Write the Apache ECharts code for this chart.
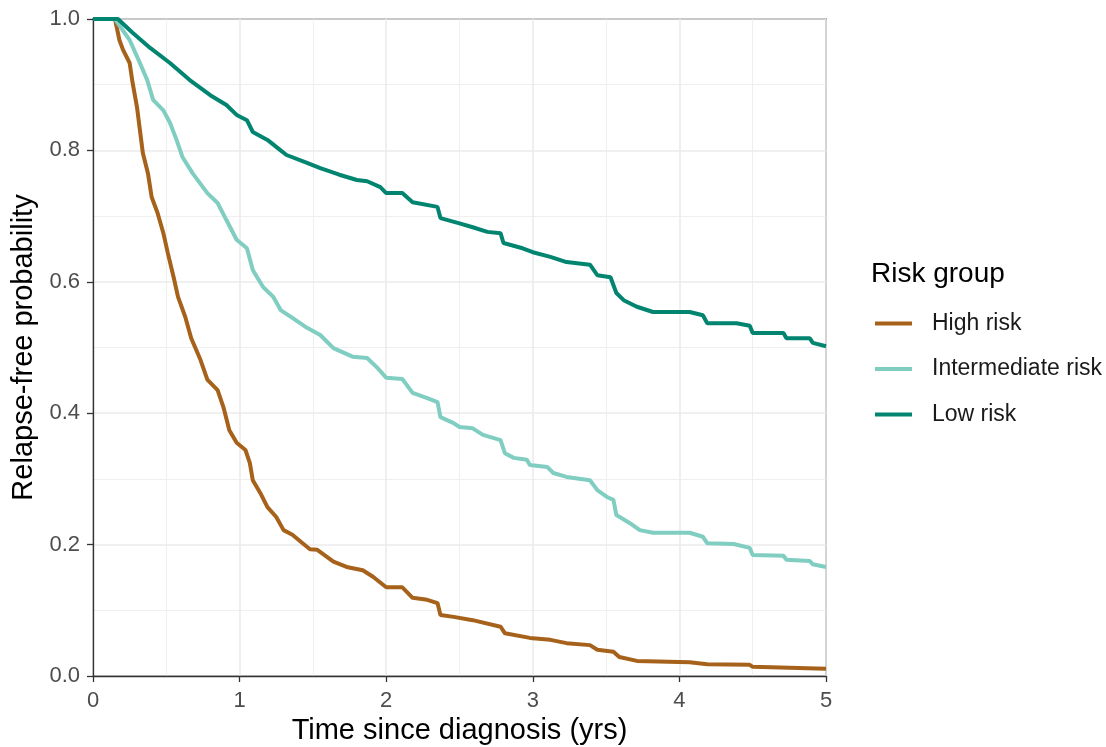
<!DOCTYPE html>
<html>
<head>
<meta charset="utf-8">
<script src="https://cdn.jsdelivr.net/npm/echarts@6/dist/echarts.min.js"></script>
<style>
html,body{margin:0;padding:0;background:#fff;}
#chart{width:1106px;height:747px;}
</style>
</head>
<body>
<div id="chart"></div>
<script>
// Group names and colours
const groupNames = ['High risk', 'Intermediate risk', 'Low risk'];
const groupColors = ['#A6611A', '#80CDC1', '#018571'];

// Survival estimates: [time (yrs), relapse-free probability]
const highRisk = [[0,1],[0.15,1],[0.18,0.968],[0.205,0.953],[0.25,0.933],[0.27,0.903],[0.30,0.866],[0.32,0.831],[0.34,0.796],[0.375,0.765],[0.40,0.729],[0.44,0.705],[0.48,0.674],[0.51,0.644],[0.55,0.607],[0.58,0.577],[0.63,0.546],[0.67,0.514],[0.73,0.483],[0.78,0.451],[0.85,0.435],[0.89,0.409],[0.93,0.374],[0.98,0.355],[1.04,0.344],[1.07,0.324],[1.09,0.298],[1.14,0.279],[1.19,0.257],[1.25,0.242],[1.30,0.222],[1.36,0.215],[1.43,0.202],[1.48,0.193],[1.53,0.192],[1.64,0.174],[1.73,0.166],[1.84,0.161],[1.91,0.151],[2.0,0.135],[2.11,0.135],[2.18,0.119],[2.28,0.116],[2.35,0.111],[2.37,0.093],[2.46,0.090],[2.59,0.085],[2.78,0.075],[2.81,0.065],[2.98,0.058],[3.12,0.055],[3.23,0.050],[3.39,0.047],[3.44,0.040],[3.55,0.037],[3.59,0.029],[3.71,0.023],[4.07,0.021],[4.19,0.018],[4.48,0.017],[4.50,0.014],[5.0,0.011]];

const intermediateRisk = [[0,1],[0.15,1],[0.25,0.968],[0.32,0.933],[0.37,0.907],[0.41,0.877],[0.48,0.861],[0.525,0.842],[0.57,0.816],[0.61,0.790],[0.68,0.765],[0.78,0.735],[0.85,0.720],[0.91,0.694],[0.98,0.664],[1.05,0.651],[1.09,0.618],[1.16,0.592],[1.23,0.577],[1.28,0.557],[1.36,0.545],[1.46,0.530],[1.55,0.519],[1.64,0.499],[1.77,0.486],[1.87,0.484],[1.94,0.469],[2.0,0.454],[2.11,0.452],[2.18,0.431],[2.28,0.423],[2.35,0.417],[2.37,0.394],[2.46,0.385],[2.5,0.379],[2.59,0.377],[2.66,0.367],[2.78,0.359],[2.81,0.339],[2.87,0.332],[2.96,0.329],[2.98,0.321],[3.10,0.318],[3.14,0.309],[3.23,0.303],[3.39,0.298],[3.44,0.283],[3.51,0.272],[3.55,0.268],[3.57,0.245],[3.66,0.233],[3.73,0.222],[3.82,0.218],[4.07,0.218],[4.16,0.212],[4.19,0.202],[4.37,0.201],[4.48,0.195],[4.50,0.184],[4.71,0.183],[4.73,0.177],[4.89,0.175],[4.91,0.170],[5.0,0.166]];

const lowRisk = [[0,1],[0.17,1],[0.27,0.979],[0.39,0.956],[0.525,0.933],[0.66,0.907],[0.80,0.884],[0.91,0.869],[0.98,0.854],[1.05,0.846],[1.09,0.828],[1.19,0.816],[1.28,0.80],[1.32,0.793],[1.46,0.781],[1.55,0.773],[1.68,0.763],[1.80,0.755],[1.87,0.753],[1.96,0.744],[2.0,0.735],[2.11,0.735],[2.18,0.721],[2.35,0.714],[2.37,0.697],[2.50,0.689],[2.59,0.683],[2.69,0.676],[2.78,0.674],[2.80,0.659],[2.93,0.651],[3.0,0.645],[3.12,0.638],[3.23,0.630],[3.39,0.626],[3.44,0.610],[3.53,0.607],[3.57,0.583],[3.62,0.572],[3.71,0.562],[3.82,0.554],[4.07,0.554],[4.16,0.549],[4.19,0.537],[4.39,0.537],[4.48,0.533],[4.50,0.522],[4.71,0.522],[4.73,0.514],[4.89,0.514],[4.91,0.507],[5.0,0.502]];

// Axis settings
const xTicks = [0, 1, 2, 3, 4, 5];
const yTicks = [0, 0.2, 0.4, 0.6, 0.8, 1.0];

const seriesData = [highRisk, intermediateRisk, lowRisk];
const FONT = 'Liberation Sans, Arial, sans-serif';

const chart = echarts.init(document.getElementById('chart'), null, {renderer: 'canvas'});
chart.setOption({
  animation: false,
  backgroundColor: '#fff',
  textStyle: {fontFamily: FONT},
  title: {
    text: 'Risk group',
    left: 871, top: 260, padding: 0,
    textStyle: {fontFamily: FONT, fontSize: 28, fontWeight: 'normal', color: '#000'}
  },
  legend: {
    data: groupNames,
    orient: 'vertical',
    left: 870, top: 307,
    icon: 'rect',
    itemWidth: 37, itemHeight: 4,
    itemGap: 22.5,
    textStyle: {fontFamily: FONT, fontSize: 23, color: '#1a1a1a', lineHeight: 20, padding: [0, 0, 0, 15]}
  },
  grid: {
    left: 93, top: 19, right: 280, bottom: 71,
    containLabel: false, outerBoundsMode: 'none',
    show: true, borderColor: '#333', borderWidth: 1.3, backgroundColor: 'transparent'
  },
  xAxis: {
    type: 'value', min: xTicks[0], max: xTicks[xTicks.length - 1], interval: 1,
    name: 'Time since diagnosis (yrs)', nameLocation: 'middle', nameGap: 35,
    nameTextStyle: {fontFamily: FONT, fontSize: 29, color: '#000'},
    axisLine: {show: true, onZero: false, lineStyle: {color: '#333', width: 1.3}},
    axisTick: {show: true, length: 6, lineStyle: {color: '#333', width: 1.3}},
    axisLabel: {fontFamily: FONT, fontSize: 22, color: '#4d4d4d', margin: 14},
    splitLine: {show: true, lineStyle: {color: '#ebebeb', width: 1.6}},
    minorTick: {show: false, splitNumber: 2},
    minorSplitLine: {show: true, lineStyle: {color: '#ebebeb', width: 0.8}}
  },
  yAxis: {
    type: 'value', min: yTicks[0], max: yTicks[yTicks.length - 1], interval: 0.2,
    name: 'Relapse-free probability', nameLocation: 'middle', nameGap: 54,
    nameTextStyle: {fontFamily: FONT, fontSize: 29, color: '#000'},
    axisLine: {show: true, onZero: false, lineStyle: {color: '#333', width: 1.3}},
    axisTick: {show: true, length: 6, lineStyle: {color: '#333', width: 1.3}},
    axisLabel: {fontFamily: FONT, fontSize: 22, color: '#4d4d4d', margin: 13,
      formatter: v => v.toFixed(1)},
    splitLine: {show: true, lineStyle: {color: '#ebebeb', width: 1.6}},
    minorTick: {show: false, splitNumber: 2},
    minorSplitLine: {show: true, lineStyle: {color: '#ebebeb', width: 0.8}}
  },
  series: groupNames.map((name, i) => ({
    name: name,
    type: 'line',
    data: seriesData[i],
    showSymbol: false,
    symbol: 'none',
    color: groupColors[i],
    lineStyle: {color: groupColors[i], width: 4},
    clip: true,
    z: 3
  }))
});
</script>
</body>
</html>
